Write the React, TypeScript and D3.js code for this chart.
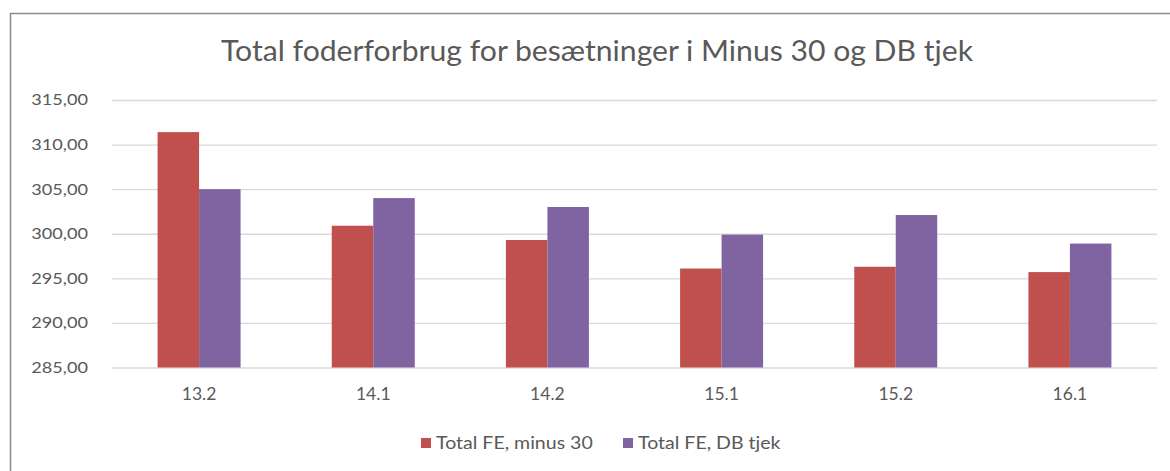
import React, { useRef, useEffect } from 'react';
import { select, scaleLinear, scaleBand, axisLeft, axisBottom, format } from 'd3';

const categories = ['13.2', '14.1', '14.2', '15.1', '15.2', '16.1'];
const minus30 = [311.4, 300.9, 299.3, 296.1, 296.3, 295.7];
const dbTjek = [305.0, 304.0, 303.0, 299.9, 302.1, 298.9];
const seriesNames = ['Total FE, minus 30', 'Total FE, DB tjek'];
const yTicks = [285, 290, 295, 300, 305, 310, 315];

const colors = ['#C0504D', '#8064A2'];
const textColor = '#595959';
const font = 'Lato, "Open Sans", sans-serif';

function App() {
  const rootRef = useRef<SVGSVGElement>(null);
  const width = 1170;
  const height = 471;
  const margin = { top: 100, right: 13, bottom: 103.5, left: 112 };

  useEffect(() => {
    const root = select(rootRef.current);
    root.selectAll('*').remove();

    // chart border
    root.append('rect')
      .attr('x', 10.5).attr('y', 13.5)
      .attr('width', width + 10).attr('height', height + 10)
      .attr('fill', 'white').attr('stroke', '#8c8c8c').attr('stroke-width', 1.5);

    // text in the source is a bit wider than Lato, stretch it a little
    root.append('text')
      .attr('transform', 'translate(597,61) scale(1.04,1)')
      .attr('text-anchor', 'middle')
      .attr('font-family', font).attr('font-size', 29)
      .attr('fill', textColor)
      .text('Total foderforbrug for besætninger i Minus 30 og DB tjek');

    const xScale = scaleBand()
      .domain(categories)
      .range([margin.left, width - margin.right]);

    const yScale = scaleLinear()
      .domain([285, 315])
      .range([height - margin.bottom, margin.top]);

    const yAxis = axisLeft(yScale)
      .tickValues(yTicks)
      .tickSize(-(width - margin.left - margin.right))
      .tickPadding(24)
      .tickFormat((d: any) => format('.2f')(d).replace('.', ','));

    const gy = root.append('g')
      .attr('transform', `translate(${margin.left},0)`)
      .call(yAxis as any);
    gy.select('.domain').remove();
    gy.selectAll('line').attr('stroke', '#d9d9d9').attr('stroke-width', 1.3);
    gy.selectAll('text')
      .attr('font-family', font).attr('font-size', 15.5).attr('fill', textColor)
      .attr('transform', 'scale(1.17,1)')
      .attr('x', -24 / 1.17);

    const xAxis = axisBottom(xScale).tickSize(0).tickPadding(0);
    const gx = root.append('g')
      .attr('transform', `translate(0,${height - margin.bottom})`)
      .call(xAxis as any);
    gx.select('.domain').remove();
    gx.selectAll('text')
      .attr('font-family', font).attr('font-size', 17.5).attr('fill', textColor)
      .attr('dy', null)
      .attr('y', 32);

    const barW = 41.5;
    [minus30, dbTjek].forEach((vals, si) => {
      root.append('g')
        .selectAll('rect')
        .data(vals)
        .join('rect')
        .attr('x', (_d, i) => (xScale(categories[i]) as number) + xScale.bandwidth() / 2 - barW + si * barW)
        .attr('y', d => yScale(d))
        .attr('width', barW)
        .attr('height', d => yScale(285) - yScale(d))
        .attr('fill', colors[si]);
    });

    // legend
    const legendX = [421, 623];
    seriesNames.forEach((name, i) => {
      const g = root.append('g').attr('transform', `translate(${legendX[i]},443)`);
      g.append('rect').attr('x', 0).attr('y', -5).attr('width', 10).attr('height', 10).attr('fill', colors[i]);
      g.append('text')
        .attr('transform', 'translate(15,6) scale(1.15,1)')
        .attr('font-family', font).attr('font-size', 17).attr('fill', textColor)
        .text(name);
    });
  });

  return (
    <div style={{ position: 'fixed', left: 0, top: 0 }}>
      <svg width={width} height={height} ref={rootRef} style={{ display: 'block' }}></svg>
    </div>
  );
}

export default App;
